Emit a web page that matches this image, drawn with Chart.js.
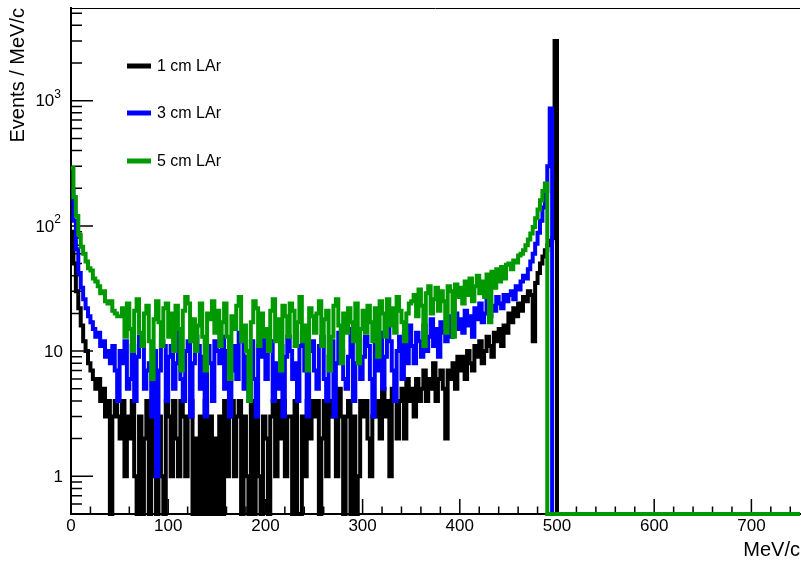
<!DOCTYPE html>
<html>
<head>
<meta charset="utf-8">
<script src="https://cdn.jsdelivr.net/npm/chart.js@4.4.1/dist/chart.umd.min.js"></script>
<style>
  html, body { margin: 0; padding: 0; background: #fff; }
  #wrap { width: 801px; height: 562px; }
</style>
</head>
<body>
<div id="wrap"><canvas id="chart" width="801" height="562"></canvas></div>
<script>
// histogram binning (MeV/c)
const binWidth = 2.5;
const nBins = 300;
const yMin = 0.5;
const yMax = 5500;

const xTickValues = [0, 100, 200, 300, 400, 500, 600, 700];
const yTickValues = [1, 10, 100, 1000];
const yTickBase = ['1', '10', '10', '10'];
const yTickExp = ['', '', '2', '3'];
const seriesLabels = ['1 cm LAr', '3 cm LAr', '5 cm LAr'];

// counts per bin, starting at 0 MeV/c; bins after the list are empty
const lar1cm = [
  90, 50, 30, 22, 16, 12, 10, 8, 7, 6, 5, 6, 4, 5, 3, 4, 0, 3, 4, 3,
  2, 4, 1, 3, 2, 4, 1, 0, 3, 0, 2, 4, 0, 3, 1, 0, 3, 1, 0, 4,
  3, 1, 4, 2, 1, 4, 3, 1, 3, 4, 0, 2, 0, 3, 0, 4, 0, 3, 0, 2,
  0, 3, 0, 4, 1, 3, 4, 1, 3, 4, 0, 3, 1, 0, 4, 0, 3, 1, 0, 3,
  2, 0, 3, 4, 1, 4, 2, 4, 1, 3, 3, 0, 4, 0, 0, 3, 1, 4, 2, 4,
  3, 4, 0, 2, 4, 1, 4, 3, 4, 1, 5, 3, 0, 3, 4, 0, 3, 0, 1, 4,
  3, 4, 2, 1, 3, 3, 4, 2, 5, 3, 4, 1, 5, 4, 2, 4, 5, 2, 6, 4,
  5, 3, 6, 4, 5, 7, 4, 6, 5, 8, 4, 6, 7, 5, 2, 7, 6, 8, 5, 9,
  7, 9, 6, 10, 8, 7, 11, 9, 12, 8, 10, 13, 11, 9, 14, 12, 15, 11, 16, 14,
  20, 17, 22, 19, 24, 21, 27, 25, 30, 28, 12, 35, 42, 50, 57, 64, 70, 76, 80, 3000
];
const lar3cm = [
  190, 110, 65, 42, 32, 26, 22, 19, 17, 15, 13, 14, 11, 12, 9, 10, 8, 11, 7, 4,
  10, 8, 12, 5, 6, 11, 4, 9, 13, 12, 5, 7, 8, 3, 10, 1, 7, 12, 11, 4,
  9, 11, 5, 8, 14, 6, 4, 10, 12, 3, 8, 13, 11, 5, 9, 3, 11, 8, 4, 12,
  10, 8, 13, 5, 10, 3, 7, 11, 6, 14, 12, 5, 9, 4, 12, 6, 3, 11, 9, 13,
  6, 10, 12, 4, 8, 5, 11, 3, 9, 13, 10, 6, 8, 4, 11, 14, 7, 3, 10, 12,
  7, 5, 11, 13, 6, 4, 9, 12, 3, 8, 14, 10, 6, 5, 9, 15, 4, 8, 12, 6,
  9, 13, 11, 6, 3, 12, 7, 14, 5, 9, 15, 12, 7, 4, 10, 13, 6, 14, 8, 16,
  11, 8, 14, 12, 9, 16, 10, 13, 18, 11, 15, 9, 17, 14, 12, 19, 13, 16, 20, 15,
  18, 14, 21, 16, 19, 13, 22, 18, 24, 17, 20, 26, 19, 23, 21, 27, 24, 22, 28, 25,
  28, 30, 26, 33, 31, 36, 40, 38, 45, 52, 60, 72, 88, 110, 140, 190, 300, 865
];
const lar5cm = [
  290, 170, 120, 85, 68, 60, 52, 46, 44, 38, 36, 33, 29, 30, 25, 24, 25, 21, 20, 19,
  19, 22, 13, 24, 15, 10, 21, 26, 14, 11, 20, 23, 12, 6, 18, 25, 17, 11, 22, 24,
  13, 20, 10, 23, 15, 7, 21, 27, 24, 12, 18, 10, 16, 24, 13, 7, 20, 18, 25, 14,
  21, 11, 17, 24, 13, 6, 19, 15, 23, 27, 12, 16, 10, 4, 17, 25, 22, 11, 20, 13,
  15, 10, 21, 26, 12, 18, 7, 23, 19, 13, 24, 21, 11, 17, 27, 12, 16, 7, 22, 19,
  14, 20, 25, 11, 18, 21, 7, 13, 23, 26, 16, 8, 20, 14, 22, 17, 12, 24, 8, 15,
  21, 14, 23, 17, 12, 22, 9, 25, 20, 13, 26, 16, 22, 14, 27, 21, 17, 12, 20, 24,
  25, 28, 19, 31, 23, 11, 29, 33, 20, 26, 32, 21, 30, 25, 14, 33, 30, 13, 34, 27,
  32, 24, 36, 28, 38, 25, 33, 40, 29, 36, 27, 41, 17, 43, 32, 45, 36, 47, 38, 49,
  50, 45, 53, 51, 58, 60, 64, 70, 78, 87, 98, 115, 135, 160, 190, 218
];

const colors = ['#000000', '#0000ff', '#009900'];
const FONT = "'Liberation Sans', Arial, Helvetica, sans-serif";

// step points at the low edge of each bin; empty bins sit on the bottom of the log axis
function histPoints(counts) {
  const pts = [];
  for (let i = 0; i < nBins; i++) {
    const c = i < counts.length ? counts[i] : 0;
    pts.push({ x: i * binWidth, y: c > 0 ? c : yMin });
  }
  pts.push({ x: nBins * binWidth, y: pts[pts.length - 1].y });
  return pts;
}

// ROOT style inward ticks, decade labels, frame and legend
const rootFrame = {
  id: 'rootFrame',
  beforeDatasetsDraw(chart) {
    const { ctx, chartArea: a, scales: { x, y } } = chart;
    ctx.save();
    ctx.strokeStyle = '#000';
    ctx.lineWidth = 1.5;
    ctx.beginPath();
    for (let v = 0; v <= 750; v += 20) {
      const px = x.getPixelForValue(v);
      const len = v % 100 === 0 ? 15 : 7.5;
      ctx.moveTo(px, a.bottom);
      ctx.lineTo(px, a.bottom - len);
    }
    for (let e = -1; e <= 3; e++) {
      for (let m = 1; m <= 9; m++) {
        const v = m * Math.pow(10, e);
        if (v < yMin || v > yMax) continue;
        const py = y.getPixelForValue(v);
        const len = m === 1 ? 22 : 11;
        ctx.moveTo(a.left, py);
        ctx.lineTo(a.left + len, py);
      }
    }
    ctx.stroke();
    ctx.lineWidth = 1;
    ctx.beginPath();
    ctx.moveTo(a.left, a.top + 0.5);
    ctx.lineTo(a.right, a.top + 0.5);
    ctx.stroke();

    // y labels: 1, 10, 10^2, 10^3
    ctx.fillStyle = '#000';
    ctx.textBaseline = 'middle';
    ctx.textAlign = 'left';
    yTickValues.forEach((v, i) => {
      const py = y.getPixelForValue(v) + 1;
      ctx.font = '17px ' + FONT;
      const wb = ctx.measureText(yTickBase[i]).width;
      ctx.font = '12px ' + FONT;
      const we = yTickExp[i] ? ctx.measureText(yTickExp[i]).width : 0;
      const right = yTickExp[i] ? 61 : 63;
      const x0 = right - wb - we;
      ctx.font = '17px ' + FONT;
      ctx.fillText(yTickBase[i], x0, py);
      if (yTickExp[i]) {
        ctx.font = '12px ' + FONT;
        ctx.fillText(yTickExp[i], x0 + wb, py - 7);
      }
    });
    ctx.restore();
  },
  afterDatasetsDraw(chart) {
    const { ctx } = chart;
    const rows = [66, 113, 161];
    ctx.save();
    ctx.font = '16px ' + FONT;
    ctx.textBaseline = 'middle';
    ctx.fillStyle = '#000';
    seriesLabels.forEach((label, i) => {
      ctx.strokeStyle = colors[i];
      ctx.lineWidth = 5;
      ctx.beginPath();
      ctx.moveTo(127, rows[i]);
      ctx.lineTo(151, rows[i]);
      ctx.stroke();
      ctx.fillText(label, 157, rows[i] + 1);
    });
    ctx.restore();
  }
};

const datasets = [lar1cm, lar3cm, lar5cm].map((counts, i) => ({
  label: seriesLabels[i],
  data: histPoints(counts),
  borderColor: colors[i],
  borderWidth: 4,
  stepped: 'before',
  pointRadius: 0,
  fill: false,
  order: 3 - i,
  clip: { left: 2, right: 2, top: 2, bottom: 4 }
}));

const ctx = document.getElementById('chart').getContext('2d');
new Chart(ctx, {
  type: 'line',
  data: { datasets },
  options: {
    responsive: false,
    animation: false,
    devicePixelRatio: 1,
    layout: { padding: { top: 8, right: 1, left: 0, bottom: 0 } },
    plugins: { legend: { display: false }, tooltip: { enabled: false } },
    scales: {
      x: {
        type: 'linear',
        min: 0,
        max: 750,
        grid: { display: false, drawTicks: false },
        border: { display: true, color: '#000', width: 2 },
        ticks: {
          color: '#000',
          padding: 2,
          maxRotation: 0,
          autoSkip: false,
          font: { family: FONT, size: 17 }
        },
        afterBuildTicks: s => { s.ticks = xTickValues.map(v => ({ value: v })); },
        afterFit: s => { s.height = 48; s.paddingLeft = 0; s.paddingRight = 0; },
        title: {
          display: true,
          text: 'MeV/c',
          align: 'end',
          color: '#000',
          padding: { top: 0, bottom: 0 },
          font: { family: FONT, size: 20 }
        }
      },
      y: {
        type: 'logarithmic',
        min: yMin,
        max: yMax,
        grid: { display: false, drawTicks: false },
        border: { display: true, color: '#000', width: 2 },
        ticks: { display: false },
        afterBuildTicks: s => { s.ticks = yTickValues.map(v => ({ value: v })); },
        afterFit: s => { s.width = 71; s.paddingTop = 0; s.paddingBottom = 0; },
        title: {
          display: true,
          text: 'Events / MeV/c',
          align: 'end',
          color: '#000',
          padding: { top: 6, bottom: 0 },
          font: { family: FONT, size: 20 }
        }
      }
    }
  },
  plugins: [rootFrame]
});
</script>
</body>
</html>
